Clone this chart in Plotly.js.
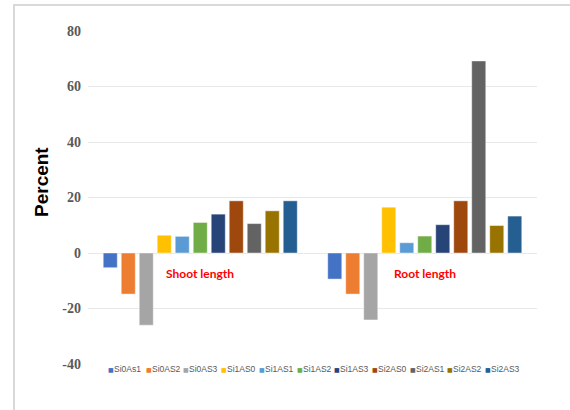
<!DOCTYPE html>
<html><head><meta charset="utf-8">
<script src="https://cdn.plot.ly/plotly-3.0.1.min.js"></script>
<style>html,body{margin:0;padding:0;background:#fff}#chart{width:570px;height:410px}</style>
</head><body><div id="chart"></div>
<script>
const categories = ["Shoot length", "Root length"];
const seriesNames = ["Si0As1","Si0AS2","Si0AS3","Si1AS0","Si1AS1","Si1AS2","Si1AS3","Si2AS0","Si2AS1","Si2AS2","Si2AS3"];
const shootValues = [-5.3, -14.8, -26.0, 6.4, 6.0, 11.0, 14.0, 18.8, 10.6, 15.2, 18.8];
const rootValues  = [-9.4, -14.8, -24.1, 16.5, 3.7, 6.1, 10.2, 18.8, 69.2, 9.9, 13.3];
const seriesColors = ["#4472C4","#ED7D31","#A5A5A5","#FFC000","#5B9BD5","#70AD47","#264478","#9E480E","#636363","#997300","#255E91"];
const yTickValues = [-40, -20, 0, 20, 40, 60, 80];
const yTitle = "Percent";

const W = 570, H = 410;
const M = {l: 88, r: 33, t: 31, b: 46};
const pw = W - M.l - M.r, ph = H - M.t - M.b;
const px2x = p => (p - M.l) / pw;
const py2y = p => (H - M.b - p) / ph;

const traces = seriesNames.map((name, i) => ({
  type: "bar",
  name: name,
  x: categories,
  y: [shootValues[i], rootValues[i]],
  marker: {color: seriesColors[i], line: {width: 0.8, color: "rgba(255,255,255,0.55)"}},
  hoverinfo: "name+y"
}));

const annotations = [];
categories.forEach(c => annotations.push({
  x: c, xref: "x", y: -7.3, yref: "y", text: "<b>" + c + "</b>", showarrow: false,
  xanchor: "center", yanchor: "middle",
  font: {family: "Lato, 'Liberation Sans', sans-serif", size: 12, color: "#FF0000"}
}));
annotations.push({
  x: px2x(41), xref: "paper", y: py2y(182), yref: "paper", text: "<b>" + yTitle + "</b>",
  textangle: -90, showarrow: false, xanchor: "center", yanchor: "middle",
  font: {family: "'Liberation Sans', Arial, sans-serif", size: 19, color: "#000000"}
});
seriesNames.forEach((n, i) => {
  const x0 = 107 + 37.7 * i;
  annotations.push({
    x: px2x(x0), xref: "paper", y: py2y(369), yref: "paper",
    text: "■", showarrow: false, xanchor: "left", yanchor: "middle", xshift: -1,
    font: {family: "'DejaVu Sans', sans-serif", size: 6, color: seriesColors[i]}
  });
  annotations.push({
    x: px2x(x0 + 5), xref: "paper", y: py2y(369), yref: "paper",
    text: n, showarrow: false, xanchor: "left", yanchor: "middle",
    font: {family: "'Liberation Sans', Arial, sans-serif", size: 8.5, color: "#595959"}
  });
});

const layout = {
  width: W, height: H,
  margin: M,
  paper_bgcolor: "#ffffff", plot_bgcolor: "#ffffff",
  barmode: "group", bargap: 0.118, bargroupgap: 0.22,
  showlegend: false,
  xaxis: {type: "category", showticklabels: false, showgrid: false, zeroline: false, showline: false, ticks: ""},
  yaxis: {
    range: [-40, 80], tickvals: yTickValues, ticktext: yTickValues.map(String),
    showgrid: true, gridcolor: "#E8E8E8", gridwidth: 1, zeroline: false, showline: false, ticks: "",
    ticklabelstandoff: 6,
    tickfont: {family: "'Liberation Serif', 'Times New Roman', serif", size: 14, color: "#595959", weight: "bold"}
  },
  shapes: [{
    type: "rect", xref: "paper", yref: "paper",
    x0: px2x(14), x1: px2x(620), y0: py2y(460), y1: py2y(5),
    line: {color: "#D9D9D9", width: 2}, fillcolor: "rgba(0,0,0,0)", layer: "below"
  }],
  annotations: annotations
};

Plotly.newPlot("chart", traces, layout, {displayModeBar: false, staticPlot: true});
</script>
</body></html>
